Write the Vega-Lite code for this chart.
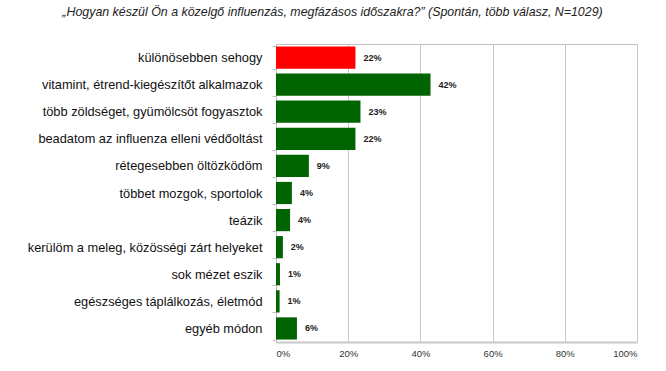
{
  "$schema": "https://vega.github.io/schema/vega-lite/v6.json",
  "width": 361,
  "height": 298,
  "autosize": {"type": "none"},
  "padding": {"left": 276, "top": 44, "right": 29, "bottom": 29},
  "background": "white",
  "title": {
    "text": "„Hogyan készül Ön a közelgő influenzás, megfázásos időszakra?” (Spontán, több válasz, N=1029)",
    "font": "Liberation Sans",
    "fontSize": 12.4,
    "fontStyle": "italic",
    "fontWeight": "normal",
    "color": "#222222",
    "anchor": "middle",
    "dx": -124,
    "offset": 20
  },
  "config": {
    "view": {"stroke": "#bfbfbf", "strokeWidth": 1},
    "font": "Liberation Sans"
  },
  "data": {
    "values": [
      {"cat": "különösebben sehogy", "v": 0.22, "label": "22%", "kind": "a"},
      {"cat": "vitamint, étrend-kiegészítőt alkalmazok", "v": 0.428, "label": "42%", "kind": "b"},
      {"cat": "több zöldséget, gyümölcsöt fogyasztok", "v": 0.234, "label": "23%", "kind": "b"},
      {"cat": "beadatom az influenza elleni védőoltást", "v": 0.22, "label": "22%", "kind": "b"},
      {"cat": "rétegesebben öltözködöm", "v": 0.091, "label": "9%", "kind": "b"},
      {"cat": "többet mozgok, sportolok", "v": 0.044, "label": "4%", "kind": "b"},
      {"cat": "teázik", "v": 0.039, "label": "4%", "kind": "b"},
      {"cat": "kerülöm a meleg, közösségi zárt helyeket", "v": 0.019, "label": "2%", "kind": "b"},
      {"cat": "sok mézet eszik", "v": 0.011, "label": "1%", "kind": "b"},
      {"cat": "egészséges táplálkozás, életmód", "v": 0.01, "label": "1%", "kind": "b"},
      {"cat": "egyéb módon", "v": 0.058, "label": "6%", "kind": "b"}
    ]
  },
  "encoding": {
    "y": {
      "field": "cat",
      "type": "nominal",
      "sort": null,
      "scale": {"paddingInner": 0.18, "paddingOuter": 0.09},
      "axis": {
        "title": null,
        "labelFont": "Liberation Sans",
        "labelFontSize": 12.8,
        "labelColor": "#111111",
        "labelLimit": 400,
        "labelPadding": 10,
        "tickBand": "extent",
        "tickSize": 4,
        "tickColor": "#bfbfbf",
        "domainColor": "#bfbfbf"
      }
    },
    "x": {
      "field": "v",
      "type": "quantitative",
      "scale": {"domain": [0, 1], "nice": false},
      "axis": {
        "title": null,
        "format": ".0%",
        "values": [0, 0.2, 0.4, 0.6, 0.8, 1],
        "labelFontSize": 9.5,
        "labelColor": "#333333",
        "labelPadding": 6,
        "ticks": false,
        "grid": true,
        "gridColor": "#c8c8c8",
        "domainColor": "#c8c8c8",
        "domainWidth": 2
      }
    }
  },
  "layer": [
    {
      "mark": {"type": "bar"},
      "encoding": {
        "color": {
          "field": "kind",
          "type": "nominal",
          "scale": {"domain": ["a", "b"], "range": ["#ff0000", "#006400"]},
          "legend": null
        }
      }
    },
    {
      "mark": {"type": "text", "align": "left", "baseline": "middle", "dx": 8, "fontSize": 9, "fontWeight": "bold", "color": "#222222"},
      "encoding": {"text": {"field": "label"}}
    }
  ]
}
